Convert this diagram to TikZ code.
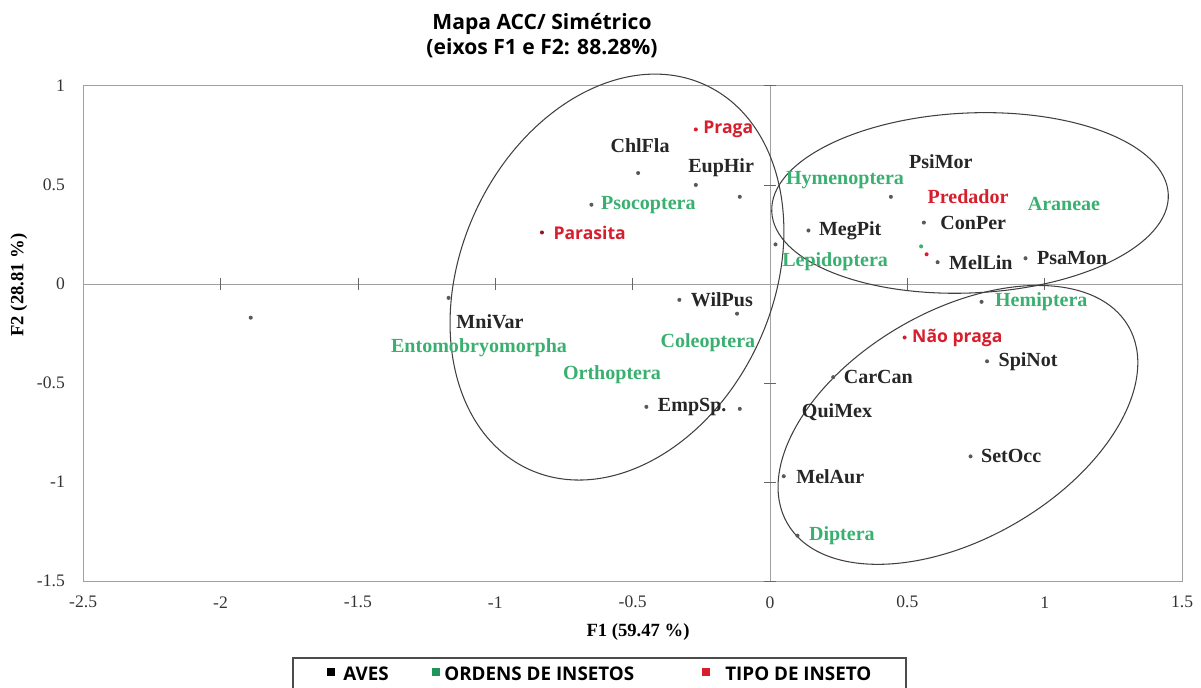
\documentclass[tikz,border=0pt]{standalone}
\usepackage{fontspec}
\setmainfont{Liberation Serif}
\newfontfamily\sanstxt{Open Sans}
\usetikzlibrary{positioning}

\definecolor{verde}{RGB}{58,176,112}
\definecolor{verdeleg}{RGB}{30,150,90}
\definecolor{vermelho}{RGB}{215,30,45}
\definecolor{eixo}{RGB}{160,160,160}

\begin{document}
\begin{tikzpicture}[x=0.02cm, y=-0.02cm,
  ponto/.style={circle, fill=black!65, inner sep=0pt, minimum size=2.3pt},
  ave/.style={font=\fontsize{11.4}{12}\selectfont\bfseries, text=black!85, inner sep=0.5pt},
  ordem/.style={font=\fontsize{11.4}{12}\selectfont\bfseries, text=verde, inner sep=0.5pt},
  tipo/.style={font=\sanstxt\bfseries\fontsize{10}{12}\selectfont, text=vermelho, inner sep=0.5pt},
  marca/.style={font=\fontsize{10}{12}\selectfont, text=black!80, inner sep=0pt},
  grupo/.style={draw=black!75, line width=0.6pt},
  legenda/.style={font=\sanstxt\bfseries\fontsize{10.7}{12}\selectfont, inner sep=0pt, anchor=west},
  quadrado/.style={inner sep=0pt, minimum size=0.16cm}]

\useasboundingbox (0,0) rectangle (1201,687);

% titulo e eixos
\node[font=\sanstxt\bfseries\fontsize{12}{14.2}\selectfont, align=center] (titulo) at (542,36)
  {Mapa ACC/ Simétrico\\(eixos F1 e F2: 88.28\%)};
\node[font=\fontsize{10.6}{12}\selectfont\bfseries] (tituloF1) at (638,632) {F1 (59.47 \%)};
\node[font=\fontsize{10.6}{12}\selectfont\bfseries, rotate=90] (tituloF2) at (19,285) {F2 (28.81 \%)};

\begin{scope}[shift={(770,284)}, x=5.496cm, y=3.964cm]
\draw[eixo] (-2.5,-1.5) rectangle (1.5,1);
\draw[eixo] (-2.5,0) -- (1.5,0);
\draw[eixo] (0,-1.5) -- (0,1);
\foreach \t in {-2,-1.5,-1,-0.5,0.5,1}
  \draw[black!60] (\t,0) +(0,-3.4pt) -- +(0,3.4pt);
\foreach \t in {-1.5,-1,-0.5,0.5,1}
  \draw[black!60] (0,\t) +(-3.4pt,0) -- +(3.4pt,0);
\foreach \t [count=\i] in {-2.5,-2,-1.5,-1,-0.5,0,0.5,1,1.5}
  \node[marca, yshift=-0.42cm] (mx\i) at (\t,-1.5) {\t};
\foreach \t [count=\i] in {-1.5,-1,-0.5,0,0.5,1}
  \node[marca, anchor=east, xshift=-0.36cm] (my\i) at (-2.5,\t) {\t};

% grupos
\draw[grupo, rotate around={65.4:(-0.557,0.035)}] (-0.557,0.035) ellipse [x radius=4.23cm, y radius=3.12cm];
\draw[grupo, rotate around={2.5:(0.728,0.409)}] (0.728,0.409) ellipse [x radius=3.97cm, y radius=1.8cm];
\draw[grupo, rotate around={30:(0.684,-0.711)}] (0.684,-0.711) ellipse [x radius=3.94cm, y radius=2.28cm];

% pontos sem rotulo ao lado
\node[ponto] (p1) at (-1.89,-0.17) {};
\node[ponto] (mnivar) at (-1.17,-0.07) {};
\node[ponto] (chlfla) at (-0.48,0.56) {};
\node[ponto] (euphir) at (-0.27,0.50) {};
\node[ponto] (p2) at (-0.11,0.44) {};
\node[ponto] (lepid) at (0.02,0.20) {};
\node[ponto] (p3) at (-0.12,-0.15) {};
\node[ponto] (p4) at (-0.11,-0.63) {};
\node[ponto] (hymen) at (0.44,0.44) {};
\node[ponto, fill=verde] (aran) at (0.55,0.19) {};
\node[ponto, fill=vermelho] (pred) at (0.57,0.15) {};

\node[ave] (mnivar-t) at (-1.019,-0.192) {MniVar};
\node[ordem] (entom-t) at (-1.059,-0.323) {Entomobryomorpha};
\node[ave] (chlfla-t) at (-0.473,0.696) {ChlFla};
\node[ave] (euphir-t) at (-0.178,0.585) {EupHir};
\node[ordem] (coleo-t) at (-0.226,-0.298) {Coleoptera};
\node[ordem] (ortho-t) at (-0.575,-0.459) {Orthoptera};
\node[ave] (psimor-t) at (0.622,0.616) {PsiMor};
\node[ordem] (hymen-t) at (0.273,0.525) {Hymenoptera};
\node[ave, text=vermelho] (pred-t) at (0.721,0.439) {Predador};
\node[ordem] (aran-t) at (1.070,0.404) {Araneae};
\node[ordem] (lepid-t) at (0.237,0.111) {Lepidoptera};
\node[ave] (quimex-t) at (0.244,-0.646) {QuiMex};

% pontos com rotulo a direita
\node[ponto, fill=vermelho] (praga) at (-0.27,0.78) {};
\node[tipo, right=0.08cm of praga] (praga-t) {Praga};
\node[ponto] (psoco) at (-0.65,0.40) {};
\node[ordem, right=0.12cm of psoco] (psoco-t) {Psocoptera};
\node[ponto, fill=vermelho!70!black] (paras) at (-0.83,0.26) {};
\node[tipo, right=0.16cm of paras] (paras-t) {Parasita};
\node[ponto] (wilpus) at (-0.33,-0.08) {};
\node[ave, right=0.16cm of wilpus] (wilpus-t) {WilPus};
\node[ponto] (empsp) at (-0.45,-0.62) {};
\node[ave, right=0.16cm of empsp] (empsp-t) {EmpSp.};
\node[ponto] (megpit) at (0.14,0.27) {};
\node[ave, right=0.14cm of megpit] (megpit-t) {MegPit};
\node[ponto] (conper) at (0.56,0.31) {};
\node[ave, right=0.26cm of conper] (conper-t) {ConPer};
\node[ponto] (mellin) at (0.61,0.11) {};
\node[ave, right=0.16cm of mellin] (mellin-t) {MelLin};
\node[ponto] (psamon) at (0.93,0.13) {};
\node[ave, right=0.16cm of psamon] (psamon-t) {PsaMon};
\node[ponto] (hemip) at (0.77,-0.09) {};
\node[ordem, right=0.2cm of hemip] (hemip-t) {Hemiptera};
\node[ponto, fill=vermelho] (naopraga) at (0.49,-0.27) {};
\node[tipo, right=0.08cm of naopraga] (naopraga-t) {Não praga};
\node[ponto] (spinot) at (0.79,-0.39) {};
\node[ave, right=0.16cm of spinot] (spinot-t) {SpiNot};
\node[ponto] (carcan) at (0.23,-0.47) {};
\node[ave, right=0.14cm of carcan] (carcan-t) {CarCan};
\node[ponto] (setocc) at (0.73,-0.87) {};
\node[ave, right=0.14cm of setocc] (setocc-t) {SetOcc};
\node[ponto] (melaur) at (0.05,-0.97) {};
\node[ave, right=0.18cm of melaur] (melaur-t) {MelAur};
\node[ponto] (dipt) at (0.10,-1.27) {};
\node[ordem, right=0.16cm of dipt] (dipt-t) {Diptera};
\end{scope}

% legenda
\draw[black!70, line width=0.6pt] (293,700) |- (906,658) -- (906,700);
\node[quadrado, fill=black] (qaves) at (331,672) {};
\node[legenda] (laves) at (343,674) {AVES};
\node[quadrado, fill=verdeleg] (qordens) at (436,672) {};
\node[legenda] (lordens) at (444,674) {ORDENS DE INSETOS};
\node[quadrado, fill=vermelho] (qtipo) at (706,672) {};
\node[legenda] (ltipo) at (725,674) {TIPO DE INSETO};

\end{tikzpicture}
\end{document}
